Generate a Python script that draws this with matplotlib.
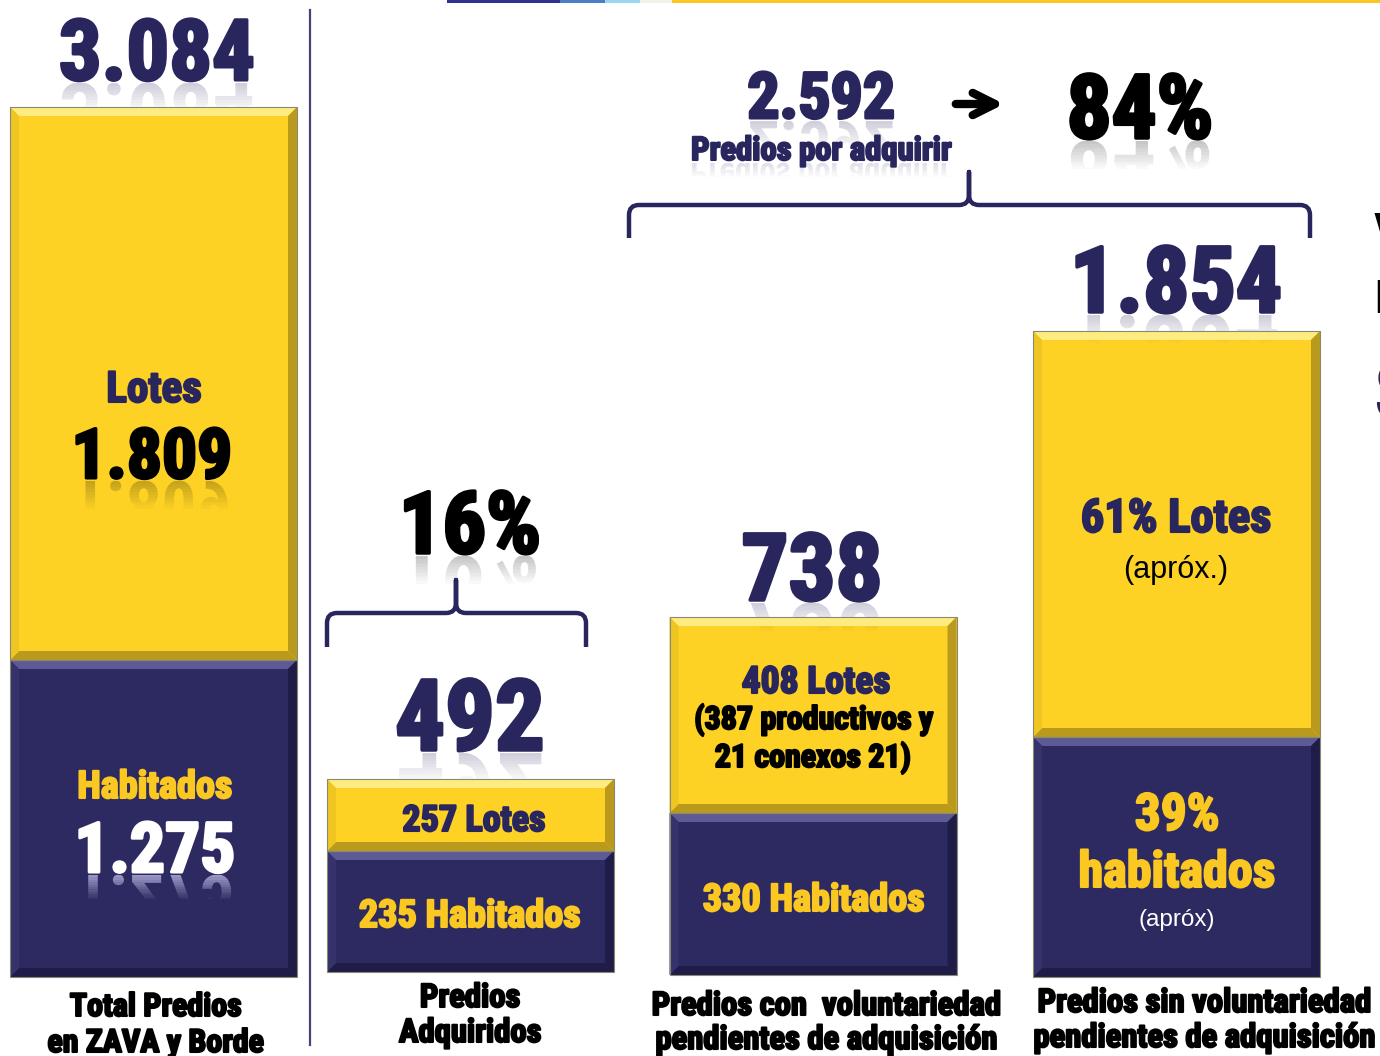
import matplotlib
matplotlib.use("Agg")
import matplotlib.pyplot as plt
import matplotlib.patheffects as pe
from matplotlib import font_manager as fm
from matplotlib.patches import Rectangle, Polygon, PathPatch
from matplotlib.path import Path
from matplotlib.textpath import TextPath
from matplotlib.transforms import Affine2D

# Datos
categorias = ["Total Predios\nen ZAVA y Borde", "Predios\nAdquiridos",
              "Predios con  voluntariedad\npendientes de adquisición",
              "Predios sin voluntariedad\npendientes de adquisición"]
totales = ["3.084", "492", "738", "1.854"]
habitados = [1275, 235, 330, 723]
lotes = [1809, 257, 408, 1131]
# alto de cada tramo tal como se dibuja en la lamina (no esta a escala)
alto_hab = [317, 121, 162, 240]
alto_lot = [553, 72, 196, 406]
por_adquirir = "2.592"
pct_adquirido = "16%"
pct_por_adquirir = "84%"

W, H = 1380, 1056
NAVY = "#2D2A62"
NAVY_TXT = "#29265E"
AMARILLO = "#FDD225"
AMA_TXT = "#FBC822"

# fuente condensada
nombres = {f.name for f in fm.fontManager.ttflist}
if "Liberation Sans Narrow" in nombres:
    COND = "Liberation Sans Narrow"
elif "Roboto Condensed" in nombres:
    COND = "Roboto Condensed"
else:
    COND = "DejaVu Sans"
REG = "Liberation Sans" if "Liberation Sans" in nombres else "DejaVu Sans"

fig = plt.figure(figsize=(W / 100, H / 100), dpi=100)
ax = fig.add_axes([0, 0, 1, 1])
ax.set_xlim(0, W)
ax.set_ylim(0, H)
ax.axis("off")


def Y(py):
    return H - py


def bisel(p, claro, oscuro, medio, b=9):
    x0, y0, w, h = p.get_x(), p.get_y(), p.get_width(), p.get_height()
    caras = [
        ([(x0, y0 + h), (x0 + w, y0 + h), (x0 + w - b, y0 + h - b), (x0 + b, y0 + h - b)], claro),
        ([(x0, y0), (x0 + w, y0), (x0 + w - b, y0 + b), (x0 + b, y0 + b)], oscuro),
        ([(x0, y0), (x0, y0 + h), (x0 + b, y0 + h - b), (x0 + b, y0 + b)], medio),
        ([(x0 + w, y0), (x0 + w, y0 + h), (x0 + w - b, y0 + h - b), (x0 + w - b, y0 + b)], oscuro),
    ]
    for pts, c in caras:
        ax.add_patch(Polygon(pts, closed=True, facecolor=c, edgecolor="none", zorder=3))
    ax.add_patch(Rectangle((x0, y0), w, h, fill=False, edgecolor="#8A8870", lw=0.8, zorder=4))


def reflejo(s, xc, yb, fs, color, alto=28, a0=0.22):
    prop = fm.FontProperties(family=COND, weight="bold")
    tp = TextPath((0, 0), s, size=fs * 100 / 72, prop=prop)
    bb = tp.get_extents()
    cx = (bb.x0 + bb.x1) / 2
    tr = Affine2D().scale(1, -1).translate(xc - cx, yb - 3) + ax.transData
    n = 10
    for i in range(n):
        pp = PathPatch(tp, transform=tr, facecolor=color, edgecolor="none",
                       alpha=a0 * (1 - i / n), zorder=2)
        ax.add_patch(pp)
        clip = Rectangle((xc - 300, yb - 3 - alto * (i + 1) / n), 600, alto / n,
                         transform=ax.transData)
        pp.set_clip_path(clip)


def texto(px, py, s, fs, color, grosor=1.5, fam=None, weight="bold", ref=False, z=6):
    fam = fam or COND
    ef = [pe.withStroke(linewidth=grosor, foreground=color)] if grosor else None
    ax.text(px, Y(py), s, fontsize=fs, color=color, family=fam, weight=weight,
            ha="center", va="baseline", path_effects=ef, zorder=z)
    if ref:
        reflejo(s, px, Y(py), fs, color)


def llave(x0, x1, xm, yh, yend, ytip, r=10):
    v = [(x0, yend), (x0, yh + r), (x0, yh), (x0 + r, yh), (xm - r, yh),
         (xm, yh), (xm, yh - r), (xm, ytip), (xm, yh - r), (xm, yh), (xm + r, yh),
         (x1 - r, yh), (x1, yh), (x1, yh + r), (x1, yend)]
    c = [Path.MOVETO, Path.LINETO, Path.CURVE3, Path.CURVE3, Path.LINETO,
         Path.CURVE3, Path.CURVE3, Path.LINETO, Path.LINETO, Path.CURVE3, Path.CURVE3,
         Path.LINETO, Path.CURVE3, Path.CURVE3, Path.LINETO]
    v = [(a, Y(b)) for a, b in v]
    ax.add_patch(PathPatch(Path(v, c), facecolor="none", edgecolor=NAVY_TXT, lw=3.2,
                           capstyle="butt", joinstyle="round", zorder=5))


def miles(n):
    return f"{n:,}".replace(",", ".")


# barras apiladas
xs = [153.5, 470.5, 813, 1176.5]
base = [Y(977), Y(972), Y(975), Y(977)]
ancho = 287
b_hab = ax.bar(xs, alto_hab, ancho, bottom=base, color=NAVY, zorder=2)
b_lot = ax.bar(xs, alto_lot, ancho, bottom=[b + h for b, h in zip(base, alto_hab)],
               color=AMARILLO, zorder=2)
for p in b_hab:
    bisel(p, "#5D5A95", "#1F1D48", "#35326C")
for p in b_lot:
    bisel(p, "#FFEC80", "#B99A1C", "#EEC521")

# linea separadora y franja superior
ax.plot([310, 310], [Y(10), Y(1045)], color="#45437A", lw=1.6, zorder=1)
for x0, x1, c in [(447, 560, "#2F3190"), (560, 605, "#4C7EC4"), (605, 640, "#9AD8F2"),
                  (640, 672, "#F4F1E6"), (672, W, "#FBC623")]:
    ax.add_patch(Rectangle((x0, Y(3)), x1 - x0, 3, facecolor=c, edgecolor="none", zorder=1))

# barra 1
texto(157, 80, totales[0], 61, NAVY_TXT, 2.2, ref=True)
texto(154, 402, "Lotes", 31, NAVY_TXT)
texto(152, 478, miles(lotes[0]), 50, "black", 2.2, ref=True)
texto(155, 798, "Habitados", 27.5, AMA_TXT)
texto(155, 872, miles(habitados[0]), 50, "white", 2.2)
reflejo(miles(habitados[0]), 155, Y(872), 50, "#B4B2DE", alto=24, a0=0.8)

# barra 2
llave(327, 586, 456, 613, 647, 580)
texto(470, 553, pct_adquirido, 62, "black", 2.5, ref=True)
texto(470, 750, totales[1], 71, NAVY_TXT, 2.5, ref=True)
texto(474, 831, f"{lotes[1]} Lotes", 26, NAVY_TXT)
texto(470, 927, f"{habitados[1]} Habitados", 27.5, AMA_TXT)

# barra 3
texto(812, 600, totales[2], 67, NAVY_TXT, 2.5, ref=True)
texto(816, 693, f"{lotes[2]} Lotes", 27, NAVY_TXT)
texto(814, 729, "(387 productivos y", 23, "black")
texto(813, 767, "21 conexos 21)", 23, "black")
texto(814, 911, f"{habitados[2]} Habitados", 27.5, AMA_TXT)

# barra 4
llave(629, 1310, 969, 205, 238, 172)
texto(821, 118, por_adquirir, 46, NAVY_TXT, 2.2, ref=True)
texto(821, 160, "Predios por adquirir", 23.5, NAVY_TXT)
reflejo("Predios por adquirir", 821, Y(160), 23.5, NAVY_TXT, alto=14, a0=0.15)
ax.annotate("", xy=(1007, Y(104)), xytext=(953, Y(104)),
            arrowprops=dict(arrowstyle="->", lw=6, color="black", mutation_scale=40))
texto(1140, 138, pct_por_adquirir, 64, "black", 2.5, ref=True)
texto(1176, 312, totales[3], 66, NAVY_TXT, 2.5, ref=True)
texto(1176, 532, "61% Lotes", 33.5, NAVY_TXT)
texto(1176, 578, "(apróx.)", 22, "black", 0, fam=REG, weight="normal")
texto(1177, 830, "39%", 37, AMA_TXT)
texto(1177, 887, "habitados", 36, AMA_TXT)
texto(1177, 926, "(apróx)", 17.5, "white", 0, fam=REG, weight="normal")

# etiquetas inferiores
etq_x = [156, 470, 826, 1204]
etq_y = [(1016, 1052), (1007, 1042), (1015, 1049), (1012, 1047)]
etq_fs = [23, 23.5, 23.5, 23.5]
for xc, (y1, y2), fs, cat in zip(etq_x, etq_y, etq_fs, categorias):
    l1, l2 = cat.split("\n")
    texto(xc, y1, l1, fs, "black")
    texto(xc, y2, l2, fs, "black")

# texto cortado en el borde derecho (asi aparece en la lamina original)
ax.text(1374, Y(246), "V", fontsize=34, color="black", family=COND, weight="bold",
        ha="left", va="baseline")
ax.text(1374, Y(313), "D", fontsize=34, color="black", family=COND, weight="bold",
        ha="left", va="baseline")
ax.text(1373, Y(420), "S", fontsize=58, color=NAVY_TXT, family=COND, weight="bold",
        ha="left", va="baseline")

fig.savefig("out.png", dpi=100)
